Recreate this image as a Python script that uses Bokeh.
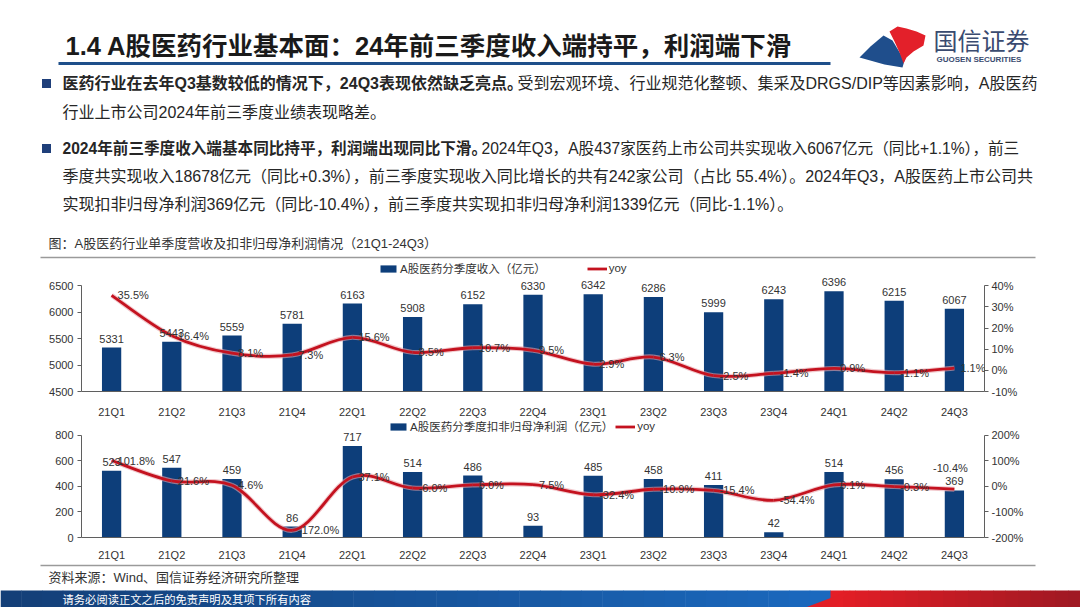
from bokeh.plotting import figure
from bokeh.models import (Range1d, LinearAxis, FixedTicker, PrintfTickFormatter,
                          ColumnDataSource, LabelSet, Legend, LegendItem)
from bokeh.layouts import column
from bokeh.embed import file_html
from bokeh.resources import INLINE
from bokeh.core.properties import value

# ---------------- data ----------------
quarters = ["21Q1", "21Q2", "21Q3", "21Q4", "22Q1", "22Q2", "22Q3", "22Q4",
            "23Q1", "23Q2", "23Q3", "23Q4", "24Q1", "24Q2", "24Q3"]
revenue = [5331, 5443, 5559, 5781, 6163, 5908, 6152, 6330,
           6342, 6286, 5999, 6243, 6396, 6215, 6067]
revenue_yoy = [35.5, 16.4, 8.1, 7.3, 15.6, 8.5, 10.7, 9.5,
               2.9, 6.3, -2.5, -1.4, 0.9, -1.1, 1.1]
profit = [523, 547, 459, 86, 717, 514, 486, 93,
          485, 458, 411, 42, 514, 456, 369]
profit_yoy = [101.8, 21.6, 4.6, -172.0, 37.1, -6.0, 6.0, 7.5,
              -32.4, -10.9, -15.4, -54.4, 6.1, -0.3, -10.4]

title_text = "1.4  A股医药行业基本面：24年前三季度收入端持平，利润端下滑"
legend1 = "A股医药分季度收入（亿元）"
legend2 = "A股医药分季度扣非归母净利润（亿元）"
caption = "图：A股医药行业单季度营收及扣非归母净利润情况（21Q1-24Q3）"
source_text = "资料来源：Wind、国信证券经济研究所整理"
footer_text = "请务必阅读正文之后的免责声明及其项下所有内容"

# ---------------- style ----------------
W = 1080
FONT = "'Liberation Sans', 'Noto Sans CJK SC', sans-serif"
NAVY = "#0d3e7a"
RED = "#c4121f"
TXT = "#262626"
AX = "#5f5f5f"
FL, FR = 81, 984          # chart frame left / right (page px)


def canvas_fig(h):
    f = figure(width=W, height=h, x_range=Range1d(0, W), y_range=Range1d(h, 0),
               x_axis_type=None, y_axis_type=None, output_backend="svg",
               toolbar_location=None, min_border=0, outline_line_color=None)
    f.grid.visible = False
    return f


def txt(f, x, y, s, size, color=TXT, bold=False, align="left"):
    f.text(x=[x], y=[y], text=[s], text_font=value(FONT),
           text_font_size=value(size), text_color=color,
           text_font_style="bold" if bold else "normal",
           text_baseline="middle", text_align=align)


# ---------------- header ----------------
HH = 260
head = canvas_fig(HH)
txt(head, 65, 45, title_text, "25.5px", color="#1a1a1a", bold=True)
head.line(x=[58, 830], y=[63, 63], line_color="#1e4f8a", line_width=3)

# logo
blue_x = [859, 870, 883, 892, 898, 904, 902, 884]
blue_y = [57, 46, 35, 40, 50, 60, 67, 64]
red_x = [889, 897, 906, 916, 925, 923, 913, 906, 903, 899, 894]
red_y = [31, 26, 28, 31, 35, 45, 51, 57, 63, 52, 41]
head.patch(x=blue_x, y=blue_y, fill_color="#1f4e8c", line_color=None)
head.patch(x=red_x, y=red_y, fill_color="#e3202a", line_color=None)
txt(head, 933, 41, "国信证券", "24px", color="#3a4b70")
txt(head, 936, 59, "GUOSEN SECURITIES", "8px", color="#3a4b70", bold=True)

# bullets
for by in (83, 148):
    head.rect(x=[46], y=[by], width=9, height=9, fill_color="#1f3f7a", line_color=None)

lines = [
    (83, "16px", [("医药行业在去年Q3基数较低的情况下，24Q3表现依然缺乏亮点。", True, 62),
                  ("受到宏观环境、行业规范化整顿、集采及DRGS/DIP等因素影响，A股医药", False, 517)]),
    (112, "16px", [("行业上市公司2024年前三季度业绩表现略差。", False, 62)]),
    (148, "15.6px", [("2024年前三季度收入端基本同比持平，利润端出现同比下滑。", True, 62),
                     ("2024年Q3，A股437家医药上市公司共实现收入6067亿元（同比+1.1%），前三", False, 481)]),
    (176, "16px", [("季度共实现收入18678亿元（同比+0.3%），前三季度实现收入同比增长的共有242家公司（占比   55.4%）。2024年Q3，A股医药上市公司共", False, 62)]),
    (204, "16px", [("实现扣非归母净利润369亿元（同比-10.4%），前三季度共实现扣非归母净利润1339亿元（同比-1.1%）。", False, 62)]),
]
for ly, fs, segs in lines:
    for s, b, lx in segs:
        txt(head, lx, ly, s, fs, bold=b)

txt(head, 48, 243, caption, "13px", color="#333333")
head.line(x=[40, 1035], y=[257, 257], line_color="#9a9a9a", line_width=1.5)


# ---------------- charts ----------------
def bezier_parts(xs, ys, t=1.0 / 6):
    n = len(xs)
    out = {k: [] for k in ("x0", "y0", "x1", "y1", "cx0", "cy0", "cx1", "cy1")}
    for i in range(n - 1):
        xp, yp = (xs[i - 1], ys[i - 1]) if i > 0 else (xs[i], ys[i])
        xn, yn = (xs[i + 2], ys[i + 2]) if i + 2 < n else (xs[i + 1], ys[i + 1])
        out["x0"].append(xs[i]); out["y0"].append(ys[i])
        out["x1"].append(xs[i + 1]); out["y1"].append(ys[i + 1])
        out["cx0"].append(xs[i] + (xs[i + 1] - xp) * t)
        out["cy0"].append(ys[i] + (ys[i + 1] - yp) * t)
        out["cx1"].append(xs[i + 1] - (xn - xs[i]) * t)
        out["cy1"].append(ys[i + 1] - (yn - ys[i]) * t)
    return out


def chart(h, top, bottom, axis_h, yr, yticks, rr, rticks, bars, yoy, leg_label,
          leg_x, leg_y, leg_spacing, xstand, last_above):
    n = len(quarters)
    fh = h - top - bottom
    k = fh / axis_h                       # frame extends above the top tick
    ytop = yr[0] + (yr[1] - yr[0]) * k
    rtop = rr[0] + (rr[1] - rr[0]) * k
    xc = [i + 0.5 for i in range(n)]
    p = figure(width=W, height=h, x_range=Range1d(0, n), y_range=Range1d(yr[0], ytop),
               output_backend="svg", toolbar_location=None,
               min_border_left=FL, min_border_right=W - FR,
               min_border_top=top, min_border_bottom=bottom,
               outline_line_color=None)
    p.grid.visible = False
    p.extra_y_ranges = {"yoy": Range1d(rr[0], rtop)}

    src = ColumnDataSource(dict(x=xc, v=bars, vt=[str(v) for v in bars]))
    br = p.vbar(x="x", top="v", bottom=yr[0], width=0.32, source=src,
                fill_color=NAVY, line_color=None)

    bz = bezier_parts(xc, yoy)
    bsrc = ColumnDataSource(bz)
    p.bezier(x0="x0", y0="y0", x1="x1", y1="y1", cx0="cx0", cy0="cy0",
             cx1="cx1", cy1="cy1", source=bsrc, line_color="#e7a3aa",
             line_width=5, line_alpha=0.6, y_range_name="yoy")
    lr = p.bezier(x0="x0", y0="y0", x1="x1", y1="y1", cx0="cx0", cy0="cy0",
                  cx1="cx1", cy1="cy1", source=bsrc, line_color=RED,
                  line_width=2.8, y_range_name="yoy")

    # axes
    xa = p.xaxis[0]
    xa.ticker = FixedTicker(ticks=xc)
    xa.major_label_overrides = {x: q for x, q in zip(xc, quarters)}
    xa.major_tick_line_color = None
    xa.minor_tick_line_color = None
    xa.axis_line_color = AX
    xa.major_label_standoff = xstand
    ya = p.yaxis[0]
    ya.ticker = FixedTicker(ticks=yticks)
    ya.bounds = (yr[0], yr[1])
    ya.minor_tick_line_color = None
    ya.major_tick_in = 0
    ya.major_tick_out = 4
    ya.axis_line_color = AX
    ya.major_tick_line_color = AX
    ya.major_label_standoff = 4
    ra = LinearAxis(y_range_name="yoy", ticker=FixedTicker(ticks=rticks),
                    formatter=PrintfTickFormatter(format="%d%%"),
                    bounds=(rr[0], rr[1]))
    ra.minor_tick_line_color = None
    ra.major_tick_in = 0
    ra.major_tick_out = 4
    ra.axis_line_color = AX
    ra.major_tick_line_color = AX
    ra.major_label_standoff = 3
    p.add_layout(ra, "right")
    for a in (xa, ya, ra):
        a.major_label_text_font = FONT
        a.major_label_text_font_size = "11px"
        a.major_label_text_color = "#333333"

    # labels
    p.add_layout(LabelSet(x="x", y="v", text="vt", source=src, y_offset=5,
                          text_align="center", text_baseline="bottom",
                          text_font=value(FONT), text_font_size="11px",
                          text_color="#333333"))
    m = n - 1 if last_above else n
    rsrc = ColumnDataSource(dict(x=xc[:m], r=yoy[:m], rt=["%.1f%%" % v for v in yoy[:m]]))
    p.add_layout(LabelSet(x="x", y="r", text="rt", source=rsrc, x_offset=6,
                          y_range_name="yoy", text_align="left",
                          text_baseline="middle", text_font=value(FONT),
                          text_font_size="11px", text_color="#333333"))
    if last_above:
        lsrc = ColumnDataSource(dict(x=xc[m:], r=yoy[m:], rt=["%.1f%%" % v for v in yoy[m:]]))
        p.add_layout(LabelSet(x="x", y="r", text="rt", source=lsrc, x_offset=-4,
                              y_offset=21, y_range_name="yoy", text_align="center",
                              text_baseline="middle", text_font=value(FONT),
                              text_font_size="11px", text_color="#333333"))

    leg = Legend(items=[LegendItem(label=leg_label, renderers=[br]),
                        LegendItem(label="yoy", renderers=[lr])],
                 location=(leg_x, leg_y), orientation="horizontal",
                 border_line_color=None, background_fill_alpha=0,
                 padding=0, margin=0, spacing=leg_spacing,
                 glyph_width=20, glyph_height=9, label_standoff=2,
                 label_height=12, label_text_font=FONT,
                 label_text_font_size="11.5px", label_text_color="#333333",
                 label_text_baseline="middle")
    p.add_layout(leg)
    return p


c1 = chart(160, 2, 25, 109, (4500, 6500), [4500, 5000, 5500, 6000, 6500],
           (-10, 40), [-10, 0, 10, 20, 30, 40], revenue, revenue_yoy,
           legend1, 378 - FL, 115, 41, 8, False)
c2 = chart(143, 0, 18, 109, (0, 800), [0, 200, 400, 600, 800],
           (-200, 200), [-200, -100, 0, 100, 200], profit, profit_yoy,
           legend2, 388 - FL, 103, 2, 5, True)

# ---------------- footer ----------------
FH = 44
foot = canvas_fig(FH)
foot.line(x=[40, 1035], y=[2, 2], line_color="#9a9a9a", line_width=1.5)
txt(foot, 48, 14, source_text, "13px", color="#333333")

band_top, band_bot = 27, FH
nstrip = 40
bl = [(20, 63, 120), (27, 105, 190)]
for k in range(nstrip):
    a = k / (nstrip - 1)
    x0 = k * 830 / nstrip
    x1 = (k + 1) * 830 / nstrip + 0.5
    c = tuple(int(bl[0][j] + (bl[1][j] - bl[0][j]) * a) for j in range(3))
    foot.quad(left=[x0], right=[x1], top=[band_top], bottom=[band_bot],
              fill_color="#%02x%02x%02x" % c, line_color=None)
rd = [(228, 30, 38), (160, 25, 35)]
for k in range(20):
    a = k / 19
    x0 = 830 + k * (W - 830) / 20
    x1 = 830 + (k + 1) * (W - 830) / 20 + 0.5
    c = tuple(int(rd[0][j] + (rd[1][j] - rd[0][j]) * a) for j in range(3))
    foot.quad(left=[x0], right=[x1], top=[band_top], bottom=[band_bot],
              fill_color="#%02x%02x%02x" % c, line_color=None)
foot.patch(x=[805, 850, 832], y=[band_bot, band_top, band_bot], fill_color="#e21e26", line_color=None)
txt(foot, 62, 36, footer_text, "11.3px", color="#ffffff")

layout = column(head, column(c1, c2, spacing=0), foot, spacing=0)
open("out.html", "w").write(file_html(layout, INLINE))
